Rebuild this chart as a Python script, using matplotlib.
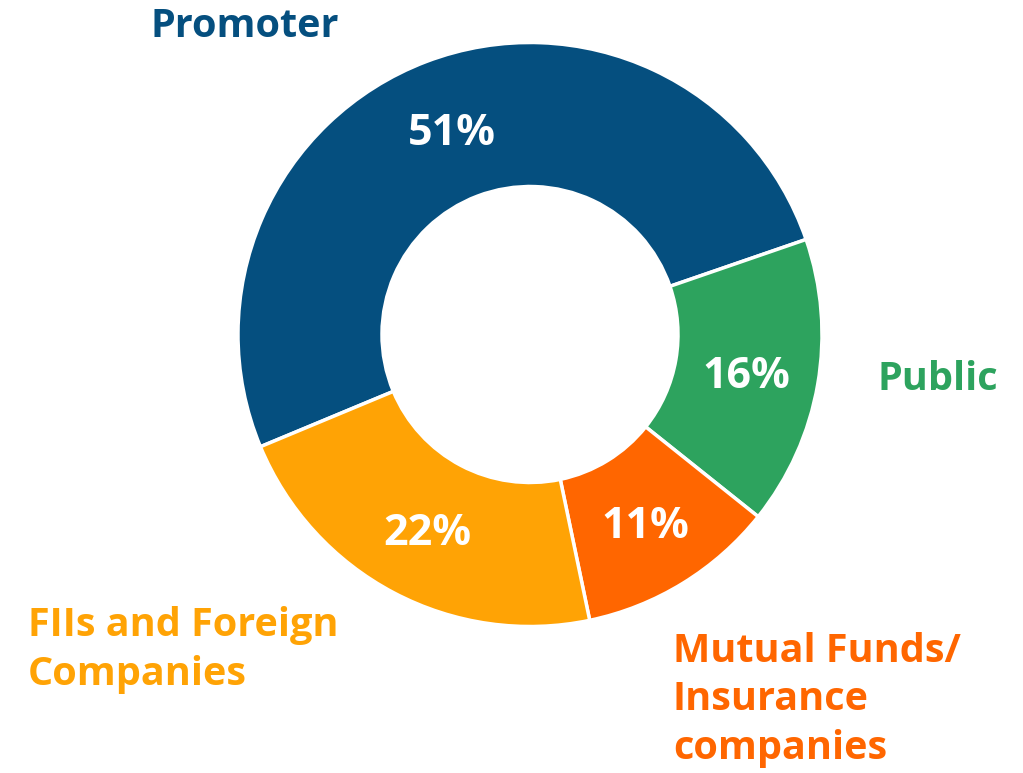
import matplotlib.pyplot as plt

# Données du graphique
categorias = ["Promoter", "Public", "Mutual Funds/\nInsurance\ncompanies", "FIIs and Foreign\nCompanies"]
valores = [51, 16, 11, 22]
cores = ["#054F7F", "#2DA35E", "#FF6600", "#FFA305"]

plt.rcParams['font.family'] = ['Open Sans', 'DejaVu Sans']

fig = plt.figure(figsize=(10.23, 7.73), dpi=100)
ax = fig.add_axes([0, 0, 1, 1])

# Donut (sentido horário, começando no limite Promoter/FIIs)
wedges, texts, autotexts = ax.pie(
    valores, colors=cores, center=(530, 438.5), radius=292,
    startangle=202.6, counterclock=False,
    autopct='%d%%', pctdistance=0.753,
    wedgeprops=dict(width=144, edgecolor='white', linewidth=2.5),
    textprops=dict(color='white', fontsize=31, fontweight='bold'),
    frame=True)
for t in autotexts:
    t.set_va('center_baseline')
ax.set_xlim(0, 1023)
ax.set_ylim(0, 773)
ax.set_aspect('equal')
ax.axis('off')

# Rótulos externos
ax.text(245, 751, categorias[0], color=cores[0], fontsize=28.5, fontweight='bold',
        ha='center', va='center_baseline')
ax.text(938, 398, categorias[1], color=cores[1], fontsize=28.5, fontweight='bold',
        ha='center', va='center_baseline')
ax.text(673, 73, categorias[2], color=cores[2], fontsize=28.5, fontweight='bold',
        ha='left', va='center', linespacing=1.32)
ax.text(28, 123, categorias[3], color=cores[3], fontsize=28.5, fontweight='bold',
        ha='left', va='center', linespacing=1.32)

fig.savefig('out.png', dpi=100)
